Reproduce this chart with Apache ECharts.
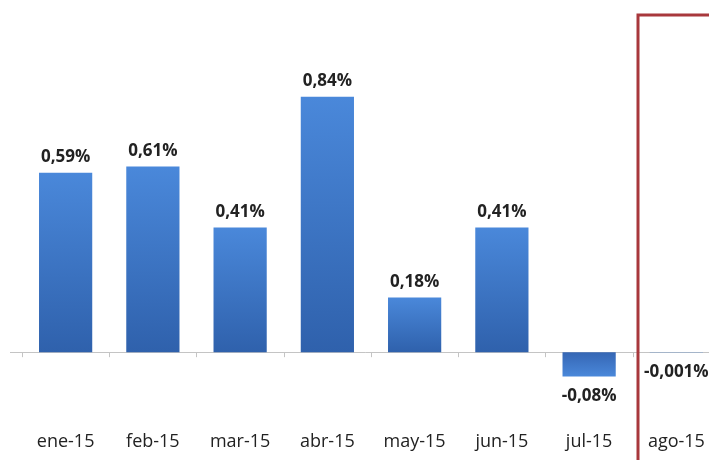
<!DOCTYPE html>
<html>
<head>
<meta charset="utf-8">
<script src="https://cdn.jsdelivr.net/npm/echarts@6/dist/echarts.min.js"></script>
<style>
  html, body { margin: 0; padding: 0; background: #fff; }
  #chart { width: 709px; height: 460px; }
</style>
</head>
<body>
<div id="chart"></div>
<script>
// meses y variación mensual (%)
const months = ['ene-15', 'feb-15', 'mar-15', 'abr-15', 'may-15', 'jun-15', 'jul-15', 'ago-15']
const values = [0.59, 0.61, 0.41, 0.84, 0.18, 0.41, -0.08, -0.001]
const valueLabels = ['0,59%', '0,61%', '0,41%', '0,84%', '0,18%', '0,41%', '-0,08%', '-0,001%']

const gradUp = new echarts.graphic.LinearGradient(0, 0, 0, 1, [
  { offset: 0, color: '#4a88da' },
  { offset: 1, color: '#2f61ac' }
])
const gradDown = new echarts.graphic.LinearGradient(0, 0, 0, 1, [
  { offset: 0, color: '#3566b4' },
  { offset: 1, color: '#4a88da' }
])

const chart = echarts.init(document.getElementById('chart'))

const data = values.map((v, i) => {
  const neg = v < 0
  return {
    value: v,
    itemStyle: { color: neg ? gradDown : gradUp },
    label: {
      position: neg ? 'bottom' : 'top',
      distance: neg ? 11 : 7
    }
  }
})

chart.setOption({
  animation: false,
  grid: { left: 22, right: -11, top: 48, bottom: 47, outerBoundsMode: 'none', containLabel: false },
  xAxis: [
    {
      // eje en cero, sin etiquetas
      type: 'category',
      data: months,
      axisLine: { onZero: true, lineStyle: { color: '#c4c4c4', width: 1 } },
      axisTick: { show: true, length: 5, alignWithLabel: false, lineStyle: { color: '#c4c4c4' } },
      axisLabel: { show: false }
    },
    {
      // etiquetas de meses abajo
      type: 'category',
      data: months,
      position: 'bottom',
      axisLine: { show: false, onZero: false },
      axisTick: { show: false },
      axisLabel: {
        show: true,
        margin: 20,
        color: '#222',
        fontFamily: 'Open Sans',
        fontSize: 18,
        interval: 0
      }
    }
  ],
  yAxis: {
    type: 'value',
    min: -0.2,
    max: 1.0,
    show: false,
    splitLine: { show: false }
  },
  series: [{
    type: 'bar',
    data: data,
    barWidth: '61%',
    label: {
      show: true,
      color: '#222',
      fontFamily: 'Open Sans',
      fontWeight: 'bold',
      fontSize: 17,
      formatter: p => valueLabels[p.dataIndex]
    }
  }],
  graphic: [
    {
      type: 'line',
      shape: { x1: 10, y1: 352.5, x2: 22, y2: 352.5 },
      style: { stroke: '#c4c4c4', lineWidth: 1 }
    },
    {
      type: 'rect',
      shape: { x: 638, y: 15, width: 120, height: 500 },
      style: { fill: 'none', stroke: '#a8383c', lineWidth: 3 },
      z: 10
    }
  ]
})
</script>
</body>
</html>
